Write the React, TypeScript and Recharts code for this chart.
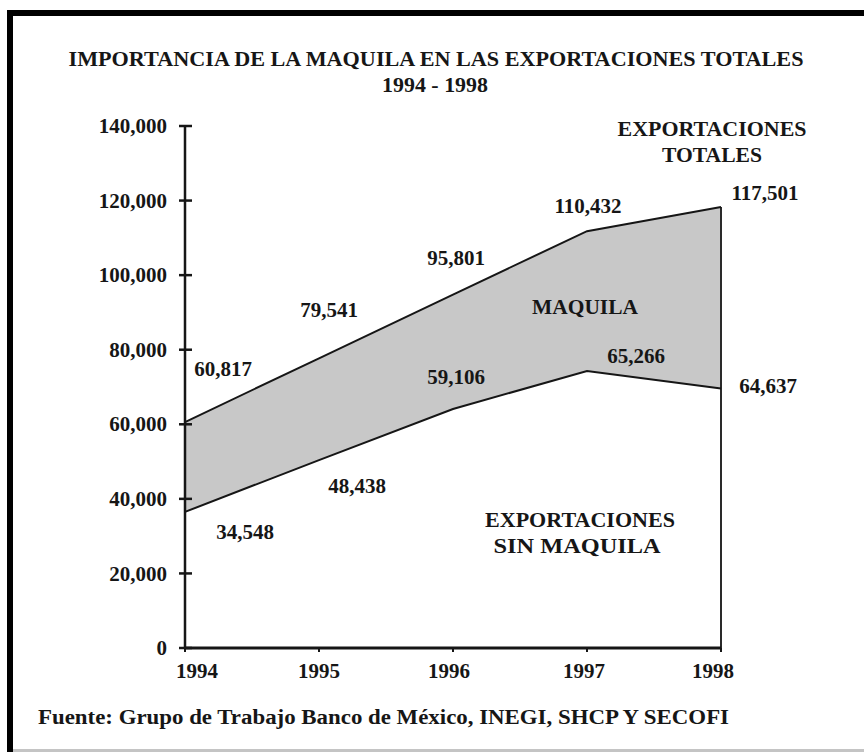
import React from 'react';
import { ComposedChart, Area, Line, XAxis, YAxis, ReferenceLine } from 'recharts';

// ---- data ----
const years = [1994, 1995, 1996, 1997, 1998];
const totalLine = [60600, 77700, 94800, 111800, 118300];
const sinMaquilaLine = [36500, 50400, 64100, 74300, 69600];
const totalLabels = ['60,817', '79,541', '95,801', '110,432', '117,501'];
const sinMaquilaLabels = ['34,548', '48,438', '59,106', '65,266', '64,637'];
const yTicks = [0, 20000, 40000, 60000, 80000, 100000, 120000, 140000];
const yTickLabels = ['0', '20,000', '40,000', '60,000', '80,000', '100,000', '120,000', '140,000'];
const titleLine1 = 'IMPORTANCIA DE LA MAQUILA EN LAS EXPORTACIONES TOTALES';
const titleLine2 = '1994 - 1998';
const sourceText = 'Fuente: Grupo de Trabajo Banco de México, INEGI, SHCP Y SECOFI';

// ---- label placement (offsets from the data point, px) ----
const totalOffsets = [[38, -53], [10, -48], [3, -37], [1, -25], [44, -14]];
const sinOffsets = [[60, 20], [38, 26], [3, -32], [49, -15], [47, -3]];
const xTickDx = [12, 0, -4, -3, -8];

const data = years.map((y, i) => ({
  year: y,
  total: totalLine[i],
  sin: sinMaquilaLine[i],
  range: [sinMaquilaLine[i], totalLine[i]],
}));

const FONT = '"Liberation Serif", "Times New Roman", serif';
const INK = '#161616';

const YTick = (props: any) => {
  const { x, y, payload } = props;
  const idx = yTicks.indexOf(payload.value);
  return (
    <g>
      <line x1={x - 6} x2={x + 7} y1={y} y2={y} stroke={INK} strokeWidth={2.5} />
      <text x={x - 18} y={y} dy="0.34em" textAnchor="end" fontFamily={FONT} fontWeight="bold" fontSize={21} fill={INK}>
        {idx >= 0 ? yTickLabels[idx] : payload.value}
      </text>
    </g>
  );
};

const XTick = (props: any) => {
  const { x, y, payload, index } = props;
  return (
    <text x={x + (xTickDx[index] || 0)} y={y + 17} dy="0.34em" textAnchor="middle" fontFamily={FONT} fontWeight="bold" fontSize={21} fill={INK}>
      {String(payload.value)}
    </text>
  );
};

const makeLabel = (labels: string[], offsets: number[][]) => (props: any) => {
  const { x, y, index } = props;
  if (x == null || y == null) return null;
  const off = offsets[index] || [0, 0];
  return (
    <text key={`lbl-${index}`} x={x + off[0]} y={y + off[1]} dy="0.34em" textAnchor="middle" fontFamily={FONT} fontWeight="bold" fontSize={21} fill={INK}>
      {labels[index]}
    </text>
  );
};

export default function App() {
  const W = 864;
  const H = 752;
  const txt = { fontFamily: FONT, fontWeight: 'bold' as const, fill: INK };
  return (
    <div style={{ position: 'absolute', left: 0, top: 0, width: W, height: H, background: '#ffffff', overflow: 'hidden' }}>
      <div style={{ position: 'absolute', left: 0, top: 0 }}>
        <ComposedChart width={W} height={H} data={data} margin={{ top: 126, right: 143, bottom: 74, left: 125 }}>
          <XAxis
            dataKey="year"
            type="number"
            domain={[1994, 1998]}
            ticks={years}
            allowDecimals={false}
            height={30}
            axisLine={{ stroke: INK, strokeWidth: 3 }}
            tickLine={{ stroke: INK, strokeWidth: 2 }}
            tickSize={4}
            tick={<XTick />}
            interval={0}
          />
          <YAxis
            type="number"
            domain={[0, 140000]}
            ticks={yTicks}
            width={60}
            axisLine={{ stroke: INK, strokeWidth: 2.5 }}
            tickLine={false}
            tickSize={0}
            tickMargin={0}
            tick={<YTick />}
            interval={0}
          />
          <Area
            dataKey="range"
            type="linear"
            stroke="none"
            fill="#c8c8c8"
            fillOpacity={1}
            isAnimationActive={false}
          />
          <ReferenceLine
            segment={[{ x: 1998, y: 0 }, { x: 1998, y: totalLine[4] }]}
            stroke="#2a2a2a"
            strokeWidth={2}
          />
          <Line
            dataKey="total"
            type="linear"
            stroke={INK}
            strokeWidth={2}
            dot={false}
            isAnimationActive={false}
            label={makeLabel(totalLabels, totalOffsets)}
          />
          <Line
            dataKey="sin"
            type="linear"
            stroke={INK}
            strokeWidth={2}
            dot={false}
            isAnimationActive={false}
            label={makeLabel(sinMaquilaLabels, sinOffsets)}
          />
        </ComposedChart>
      </div>
      <svg width={W} height={H} style={{ position: 'absolute', left: 0, top: 0, pointerEvents: 'none' }}>
        {/* frame */}
        <rect x={7} y={10} width={W - 7} height={6} fill="#000" />
        <rect x={7} y={10} width={6} height={H - 10} fill="#000" />
        <rect x={13} y={749} width={W - 13} height={3} fill="#c4c4c4" />
        {/* title */}
        <text x={436} y={66} textAnchor="middle" fontSize={21} textLength={735} lengthAdjust="spacingAndGlyphs" {...txt}>
          {titleLine1}
        </text>
        <text x={435} y={92} textAnchor="middle" fontSize={21} textLength={106} lengthAdjust="spacingAndGlyphs" {...txt}>
          {titleLine2}
        </text>
        {/* annotations */}
        <text x={712} y={136} textAnchor="middle" fontSize={21} textLength={189} lengthAdjust="spacingAndGlyphs" {...txt}>
          EXPORTACIONES
        </text>
        <text x={712} y={162} textAnchor="middle" fontSize={21} textLength={100} lengthAdjust="spacingAndGlyphs" {...txt}>
          TOTALES
        </text>
        <text x={585} y={314} textAnchor="middle" fontSize={21} textLength={106} lengthAdjust="spacingAndGlyphs" {...txt}>
          MAQUILA
        </text>
        <text x={580} y={527} textAnchor="middle" fontSize={21} textLength={190} lengthAdjust="spacingAndGlyphs" {...txt}>
          EXPORTACIONES
        </text>
        <text x={577} y={553} textAnchor="middle" fontSize={21} textLength={167} lengthAdjust="spacingAndGlyphs" {...txt}>
          SIN MAQUILA
        </text>
        {/* source */}
        <text x={38} y={724} textAnchor="start" fontSize={20} textLength={691} lengthAdjust="spacingAndGlyphs" {...txt}>
          {sourceText}
        </text>
      </svg>
    </div>
  );
}
